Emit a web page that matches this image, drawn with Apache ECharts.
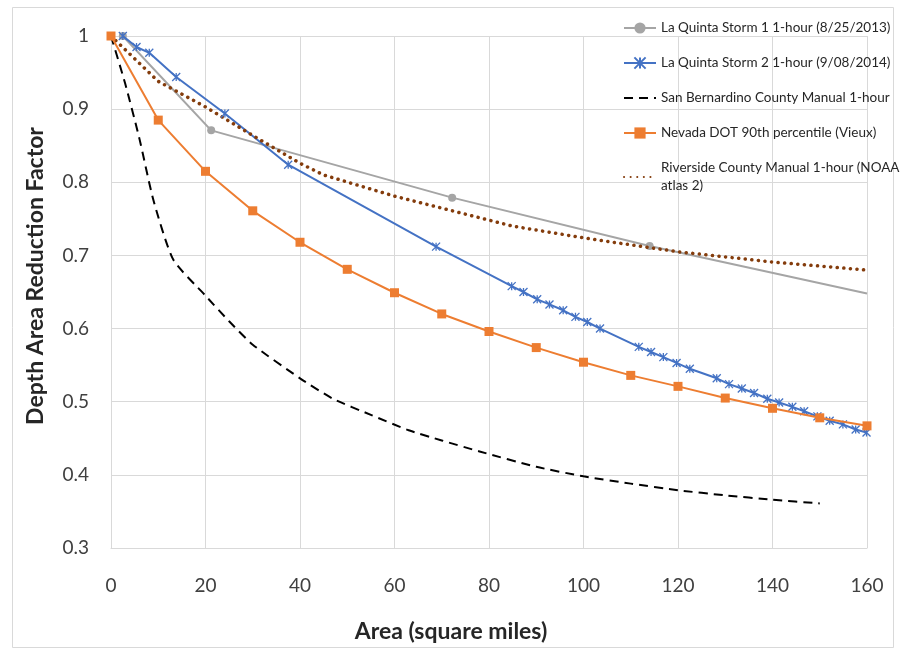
<!DOCTYPE html>
<html><head><meta charset="utf-8">
<script src="https://cdn.jsdelivr.net/npm/echarts@6/dist/echarts.min.js"></script>
<style>html,body{margin:0;padding:0;background:#fff}#c{width:900px;height:648px}</style>
</head><body><div id="c"></div>
<script>
const seriesNames = [
  'La Quinta Storm 1 1-hour (8/25/2013)',
  'La Quinta Storm 2 1-hour (9/08/2014)',
  'San Bernardino County Manual 1-hour',
  'Nevada DOT 90th percentile (Vieux)',
  'Riverside County Manual 1-hour (NOAA atlas 2)'
];
const storm1X = [2.5, 21.2, 72.2, 114, 160];
const storm1Y = [1, 0.871, 0.779, 0.713, 0.648];
const storm2X = [2.5, 5.4, 8.1, 13.8, 24.1, 37.5, 68.8, 84.8, 87.3, 90.2, 92.8, 95.7, 98.3, 100.8, 103.5, 111.7, 114.3, 116.9, 119.7, 122.5, 128.2, 130.8, 133.5, 136.1, 138.9, 141.4, 144.2, 146.7, 149.5, 152.1, 154.9, 157.6, 159.9];
const storm2Y = [1, 0.985, 0.977, 0.944, 0.894, 0.824, 0.712, 0.658, 0.650, 0.640, 0.633, 0.625, 0.616, 0.609, 0.600, 0.575, 0.568, 0.561, 0.553, 0.545, 0.532, 0.524, 0.518, 0.512, 0.504, 0.499, 0.493, 0.487, 0.480, 0.474, 0.469, 0.462, 0.458];
const sanBernX = [0, 3, 6, 9, 13.2, 20, 25, 30, 40, 47, 55, 63, 70, 78, 90, 100, 110, 120, 130, 140, 150];
const sanBernY = [1, 0.935, 0.86, 0.775, 0.694, 0.645, 0.61, 0.578, 0.532, 0.504, 0.482, 0.461, 0.447, 0.432, 0.411, 0.398, 0.388, 0.379, 0.372, 0.366, 0.361];
const nevadaX = [0, 10, 20, 30, 40, 50, 60, 70, 80, 90, 100, 110, 120, 130, 140, 150, 160];
const nevadaY = [1, 0.885, 0.815, 0.761, 0.718, 0.681, 0.649, 0.620, 0.596, 0.574, 0.554, 0.536, 0.521, 0.505, 0.491, 0.478, 0.467];
const riversideX = [0, 10, 20, 30, 40, 45, 60, 85, 100, 120, 140, 160];
const riversideY = [1, 0.938, 0.903, 0.864, 0.826, 0.81, 0.781, 0.740, 0.724, 0.705, 0.691, 0.680];
const xTicks = {min: 0, max: 160, interval: 20};
const yTicks = {min: 0.3, max: 1, interval: 0.1};

const zip = (xs, ys) => xs.map((x, i) => [x, ys[i]]);
const FONT = 'Lato';
const chart = echarts.init(document.getElementById('c'), null, {renderer: 'canvas'});
const storm1Data = zip(storm1X, storm1Y).map((p, i, a) => i === a.length - 1 ? {value: p, symbol: 'none'} : p);

chart.setOption({
  animation: false,
  backgroundColor: '#fff',
  textStyle: {fontFamily: FONT},
  graphic: [{type: 'rect', shape: {x: 12.5, y: 7.5, width: 881, height: 640}, style: {fill: 'none', stroke: '#d9d9d9', lineWidth: 1}, silent: true}],
  grid: {left: 111, right: 33, top: 36, bottom: 96},
  legend: {
    orient: 'vertical', left: 618, top: 14, itemGap: 17, itemWidth: 32, itemHeight: 14,
    textStyle: {fontFamily: FONT, fontSize: 13.5, color: '#262626', lineHeight: 18},
    formatter: n => n === seriesNames[4] ? 'Riverside County Manual 1-hour (NOAA\natlas 2)' : n,
    data: [
      seriesNames[0], seriesNames[1],
      {name: seriesNames[2], itemStyle: {opacity: 0}},
      seriesNames[3],
      {name: seriesNames[4], itemStyle: {opacity: 0}}
    ]
  },
  xAxis: {
    type: 'value', min: xTicks.min, max: xTicks.max, interval: xTicks.interval,
    name: 'Area (square miles)', nameLocation: 'middle', nameGap: 72,
    nameTextStyle: {fontFamily: FONT, fontSize: 23, fontWeight: 'bold', color: '#262626', padding: [0, 76, 0, 0]},
    axisLine: {show: true, lineStyle: {color: '#d9d9d9'}}, axisTick: {show: false},
    axisLabel: {fontSize: 19, color: '#404040', margin: 28, fontFamily: FONT},
    splitLine: {show: true, lineStyle: {color: '#d9d9d9'}}
  },
  yAxis: {
    type: 'value', min: yTicks.min, max: yTicks.max, interval: yTicks.interval,
    name: 'Depth Area Reduction Factor', nameLocation: 'middle', nameGap: 64,
    nameTextStyle: {fontFamily: FONT, fontSize: 23, fontWeight: 'bold', color: '#262626', padding: [0, 0, 0, 32]},
    axisLine: {show: true, lineStyle: {color: '#d9d9d9'}}, axisTick: {show: false},
    axisLabel: {fontSize: 19, color: '#404040', margin: 22, fontFamily: FONT},
    splitLine: {show: true, lineStyle: {color: '#d9d9d9'}}
  },
  series: [
    {name: seriesNames[0], type: 'line', data: storm1Data, symbol: 'circle', symbolSize: 8,
     itemStyle: {color: '#a5a5a5'}, lineStyle: {color: '#a5a5a5', width: 2}, z: 2},
    {name: seriesNames[1], type: 'line', data: zip(storm2X, storm2Y),
     symbol: 'path://M0,0L10,10M10,0L0,10M5,0L5,10', symbolSize: 8, symbolKeepAspect: true,
     itemStyle: {color: '#4472c4', borderColor: '#4472c4', borderWidth: 1.3}, lineStyle: {color: '#4472c4', width: 2}, z: 3},
    {name: seriesNames[2], type: 'line', data: zip(sanBernX, sanBernY), symbol: 'none', showSymbol: false, smooth: 0.2,
     itemStyle: {color: '#000'}, lineStyle: {color: '#000', width: 2, type: [9, 6]}, z: 2},
    {name: seriesNames[3], type: 'line', data: zip(nevadaX, nevadaY), symbol: 'rect', symbolSize: 9,
     itemStyle: {color: '#ed7d31'}, lineStyle: {color: '#ed7d31', width: 2}, z: 4},
    {name: seriesNames[4], type: 'line', data: zip(riversideX, riversideY), symbol: 'none', showSymbol: false,
     itemStyle: {color: '#843c0c'}, lineStyle: {color: '#843c0c', width: 3.5, type: [0.1, 6.5], cap: 'round'}, z: 3}
  ]
});
</script></body></html>
